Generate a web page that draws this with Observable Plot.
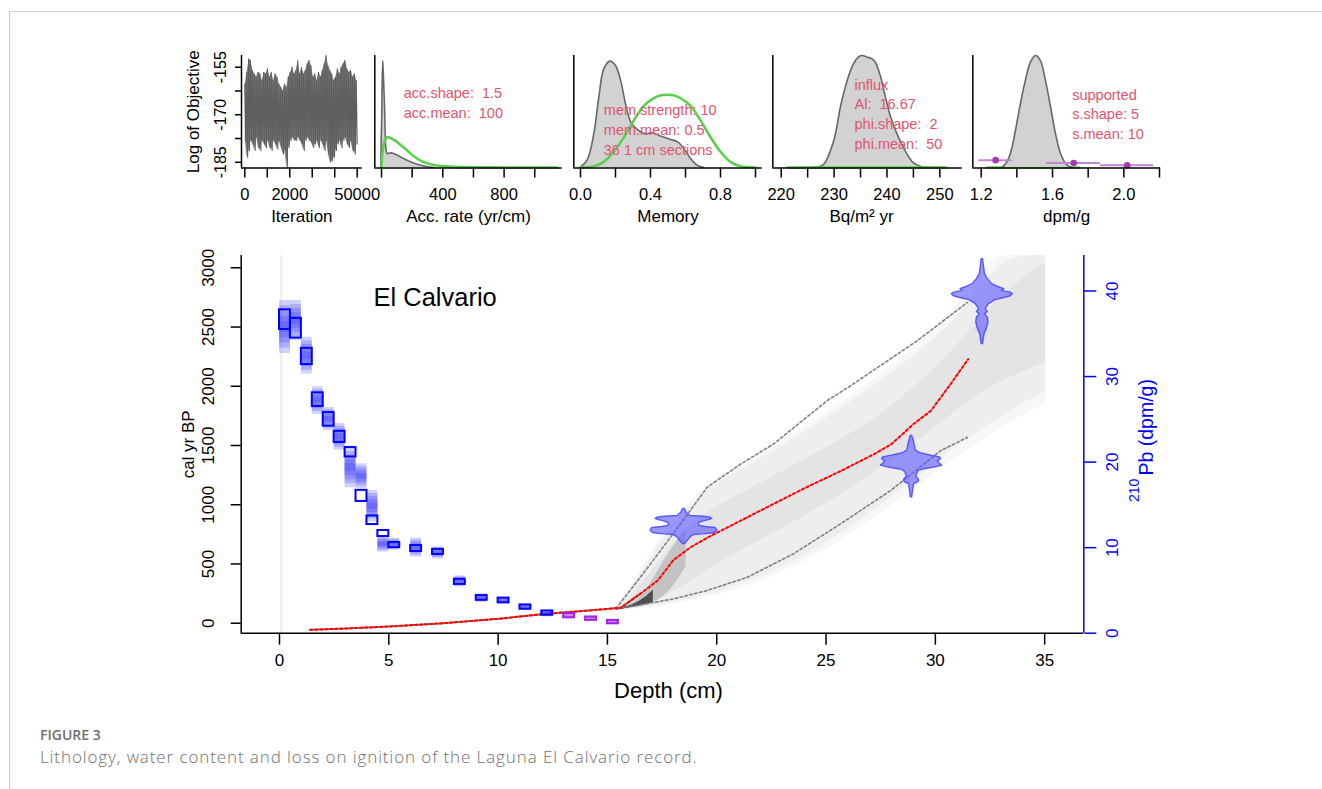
<!DOCTYPE html>
<html><head><meta charset="utf-8">
<script src="https://cdn.jsdelivr.net/npm/d3@7"></script>
<script src="https://cdn.jsdelivr.net/npm/@observablehq/plot@0.6"></script>
<style>
body{margin:0;background:#fff;}
#page{position:relative;width:1322px;height:789px;overflow:hidden;background:#fff;}
#frame{position:absolute;left:9px;top:11px;width:1330px;height:800px;border-top:1px solid #cfcfcf;border-left:1px solid #cfcfcf;}
.layer{position:absolute;left:0;top:0;}
.layer text{white-space:pre;}
.layer g[aria-label*="tick"] path,.layer g[aria-label*="axis"] line{stroke-width:1.5px;}
#fig{position:absolute;left:40px;top:727px;font-family:"Open Sans",sans-serif;font-size:14px;line-height:16px;font-weight:600;color:#6f6f6f;}
#cap{position:absolute;left:40px;top:747px;font-family:"Open Sans",sans-serif;font-size:17px;line-height:20px;font-weight:300;letter-spacing:0.9px;color:#6f6f6f;}
</style></head>
<body><div id="page"><div id="frame"></div>
<div id="fig">FIGURE 3</div>
<div id="cap">Lithology, water content and loss on ignition of the Laguna El Calvario record.</div>
</div>
<script>
// ================= DATA =================
// --- panel 1: MCMC trace (log of objective), band tops / bottoms
const traceHi = [-160.3,-156.6,-152.4,-152.9,-156.0,-157.1,-158.1,-156.6,-157.1,-159.2,
 -156.6,-157.1,-155.5,-158.1,-156.6,-159.2,-157.1,-158.1,-160.3,-161.3,
 -162.4,-160.3,-161.3,-158.1,-156.6,-155.0,-157.1,-156.0,-152.9,-157.1,
 -155.0,-157.1,-156.0,-153.9,-152.9,-154.5,-158.1,-157.1,-159.2,-156.6,
 -158.1,-156.0,-153.9,-151.3,-154.5,-156.0,-157.1,-159.2,-158.1,-155.5,
 -157.1,-155.0,-153.9,-152.9,-155.5,-156.6,-156.0,-158.1,-157.1,-159.2];
const traceLo = [-178.1,-183.4,-181.3,-178.1,-179.2,-181.3,-177.1,-180.3,-181.3,-178.1,
 -179.2,-180.3,-178.1,-180.3,-181.3,-178.1,-179.2,-180.8,-178.1,-180.3,
 -182.4,-181.3,-186.6,-180.3,-178.1,-177.1,-178.1,-178.1,-177.1,-178.1,
 -179.2,-181.3,-178.1,-177.1,-178.1,-178.7,-180.3,-179.2,-178.1,-180.3,
 -178.1,-179.2,-181.3,-178.1,-182.4,-185.0,-184.5,-183.4,-181.3,-179.2,
 -178.1,-180.3,-178.1,-177.1,-179.2,-180.3,-178.1,-181.3,-182.4,-179.2];
const traceTicks = [-155,-162.5,-170,-177.5,-185];
const traceTickLabels = [-155,-170,-185];
const iterTicks = [0,10000,20000,30000,40000,50000];
const iterTickText = ["0","","2000","","","50000"];

// --- panel 2: accumulation rate
const accPostX = [-5,2,8,13,20,30,37,60,80,124,189,254,341];
const accPostY = [0,0.5,0.955,0.8,0.54,0.154,0.125,0.13,0.125,0.094,0.05,0.02,0];
const accPriorX = [0,5,10,20,30,40,50,70,100,130,170,210,280,350,450,600,800,1000,1146];
const accPriorY = [0,0.12,0.17,0.235,0.262,0.27,0.268,0.255,0.228,0.195,0.15,0.1,0.045,0.02,0.007,0.002,0,0,0];
const accTicks = [0,200,400,600,800,1000];
const accTickText = ["","","400","","800",""];
const accText = "acc.shape:  1.5\nacc.mean:  100";

// --- panel 3: memory
const memPostX = [0,0.038,0.076,0.105,0.133,0.168,0.2,0.229,0.257,0.286,0.324,0.371,0.41,0.457,0.514,0.553,0.59,0.629,0.667,0.705];
const memPostY = [0.005,0.065,0.30,0.63,0.88,0.95,0.91,0.78,0.57,0.41,0.34,0.30,0.31,0.28,0.25,0.23,0.17,0.08,0.02,0];
const memPriorX = [0,0.076,0.133,0.19,0.248,0.305,0.362,0.419,0.46,0.495,0.53,0.571,0.629,0.686,0.743,0.8,0.857,0.914,1.0];
const memPriorY = [0,0.01,0.05,0.14,0.27,0.42,0.55,0.62,0.645,0.65,0.645,0.62,0.55,0.42,0.27,0.14,0.05,0.01,0];
const memTicks = [0,0.2,0.4,0.6,0.8,1.0];
const memTickText = ["0.0","","0.4","","0.8",""];
const memText = "mem.strength: 10\nmem.mean: 0.5\n36 1 cm sections";

// --- panel 4: 210Pb influx
const bqPostX = [221.1,227.4,228.1,229.95,231.2,232.5,233.7,234.7,235.3,236.3,237.2,237.8,238.8,239.7,240.7,241.9,243.2,244.8,246.3,250.5];
const bqPostY = [0,0.01,0.03,0.24,0.54,0.78,0.93,0.99,1.0,0.985,0.97,0.94,0.81,0.63,0.45,0.30,0.17,0.05,0.01,0];
const bqPriorX = [221.5,251.2];
const bqPriorY = [0,0];
const bqTicks = [220,225,230,235,240,245,250];
const bqTickText = ["220","","230","","240","","250"];
const bqText = "influx\nAl:  16.67\nphi.shape:  2\nphi.mean:  50";

// --- panel 5: supported 210Pb
const dpmPostX = [1.318,1.34,1.364,1.392,1.42,1.448,1.476,1.505,1.532,1.56,1.589,1.617,1.645,1.682,1.71];
const dpmPostY = [0,0.04,0.125,0.33,0.57,0.78,0.94,1.0,0.955,0.78,0.54,0.30,0.125,0.02,0];
const dpmPriorX = [1.234,1.748];
const dpmPriorY = [0,0];
const supVal = [1.281,1.719,2.019];
const supLowP = [1.187,1.566,1.869];
const supHighP = [1.374,1.869,2.168];
const supLevel = [0.065,0.04,0.02];
const dpmTicks = [1.2,1.4,1.6,1.8,2.0,2.2];
const dpmTickText = ["1.2","","1.6","","2.0",""];
const dpmText = "supported\ns.shape: 5\ns.mean: 10";

// --- main panel: age-depth model
const depthTicks = [0,5,10,15,20,25,30,35];
const ageTicks = [0,500,1000,1500,2000,2500,3000];
const pbTicks = [0,10,20,30,40];

const cloudD  = [15.3,16,17,18,19,20,21,22,24,26,28,30,31.5,32.5,33.5,35.05];
const cloudLo = [105,112,130,160,195,235,290,350,510,730,990,1270,1470,1590,1700,1860];
const cloudHi = [130,290,600,880,1080,1220,1330,1430,1650,1900,2170,2470,2790,3104,3104,3104];
const midLo   = [110,118,140,175,215,260,320,390,560,790,1060,1350,1560,1680,1800,1960];
const midHi   = [126,260,560,840,1040,1180,1290,1390,1610,1850,2110,2400,2680,2950,3104,3104];
const innerD  = [16,17,18,19,20,22,24,26,28,30,31.5,33,35.05];
const innerLo = [125,170,260,380,500,700,900,1120,1370,1650,1880,2050,2200];
const innerHi = [200,430,680,860,990,1180,1380,1580,1820,2150,2450,2780,3050];
const coreD   = [15.4,15.8,16.2,16.6,17.0,17.4,17.8,18.2,18.6];
const coreLo  = [115,122,132,145,165,200,260,360,480];
const coreHi  = [125,140,170,230,340,470,590,700,790];
const darkD   = [15.5,15.9,16.3,16.7,17.1];
const darkLo  = [118,126,138,152,175];
const darkHi  = [124,138,165,210,280];

const redD   = [1.4,3,5,7.5,10,12.2,14,15.6,16.5,17.3,18.0,18.8,19.6,21.1,22.6,24.1,25.7,27.2,28.0,29.0,29.8,30.7,31.5];
const redAge = [-56,-45,-28,0,37,79,105,130,248,360,529,641,725,866,1007,1147,1287,1428,1513,1681,1794,2019,2229];
const upD    = [15.4,16.97,18.34,19.56,21.1,22.6,25.05,26.12,29.17,31.46];
const upAge  = [125,500,838,1147,1344,1513,1878,2004,2384,2707];
const loD    = [15.4,18.04,19.56,21.4,23.5,25.66,27.95,30.24,31.46];
const loAge  = [118,206,276,388,585,838,1119,1456,1568];

// 210Pb measurements (depth interval, dpm/g) and modelled spread
const pbTop  = [0,0.5,1.0,1.5,2.0,2.5,3.0,3.5,4.0,4.5,5.0,6.0,7.0,8.0,9.0,10.0,11.0,12.0];
const pbBot  = [0.5,1.0,1.5,2.0,2.5,3.0,3.5,4.0,4.5,5.0,5.5,6.5,7.5,8.5,9.5,10.5,11.5,12.5];
const pbLo   = [35.5,34.5,31.4,26.5,24.2,22.3,20.6,15.4,12.7,11.3,10.0,9.55,9.2,5.7,3.85,3.55,2.8,2.1];
const pbHi   = [37.8,36.8,33.3,28.1,25.8,23.6,21.7,16.7,13.7,12.0,10.6,10.25,9.8,6.3,4.4,4.1,3.3,2.6];
const blurLo = [32.7,34.2,30.3,25.6,23.7,21.4,17.0,16.9,13.0,9.5,9.7,8.9,8.7,5.4,3.6,3.4,2.65,1.9];
const blurHi = [38.9,38.9,34.6,28.8,26.4,24.5,21.7,19.8,16.7,11.3,11.1,11.1,10.1,6.7,4.6,4.2,3.4,2.65];
// supported 210Pb samples
const supTop = [13,14,15];
const supBot = [13.5,14.5,15.5];
const supLo  = [1.8,1.5,1.1];
const supHi  = [2.3,1.9,1.5];

// calibrated 14C dates (violins): depth, age profile and half-width (cm)
const dateDepth = [18.5,28.91,32.15];
const v1Age = [964,935,922,905,900,890,880,870,860,850,843,824,812,804,792,782,770,759,750,745,725,697,669];
const v1Hw  = [0.04,0.12,0.18,0.3,0.9,1.22,1.3,1.15,0.9,0.75,0.69,0.69,1.0,1.45,1.5,1.52,1.48,1.37,0.9,0.46,0.3,0.18,0.05];
const v2Age = [1583,1540,1500,1456,1435,1415,1400,1385,1366,1345,1330,1315,1300,1288,1260,1235,1218,1200,1189,1175,1119,1062];
const v2Hw  = [0.03,0.1,0.15,0.2,0.4,0.9,1.3,1.35,1.2,1.3,1.4,1.1,0.6,0.35,0.25,0.22,0.32,0.35,0.3,0.12,0.07,0.03];
const v3Age = [3073,3002,2946,2904,2862,2840,2820,2805,2790,2777,2760,2749,2727,2693,2651,2628,2609,2580,2538,2482,2440,2356];
const v3Hw  = [0.03,0.08,0.12,0.25,0.45,0.7,1.0,0.9,1.3,1.4,1.3,1.1,0.6,0.3,0.15,0.25,0.12,0.25,0.28,0.2,0.1,0.03];

// ================= BUILD =================
const FONT = "'Liberation Sans', Arial, Helvetica, sans-serif";
const PINK = "#e4526f";
const GREEN = "#5bd04c";
const page = document.getElementById("page");
function add(el){ el.classList.add("layer"); page.appendChild(el); return el; }
const xy = (xs, ys) => xs.map((x, i) => ({x, y: ys[i]}));
const band = (ds, lo, hi) => ds.map((d, i) => ({d, lo: lo[i], hi: hi[i]}));

const TOP = 55, BOT = 167.5, TH = 240;
function topPanel(left, right, xDomain, yDomain, xTicks, xText, title, marks, yOpts, titleDx = 0) {
  const fmt = new Map(xTicks.map((t, i) => [t, xText[i]]));
  return Plot.plot({
    width: 1322, height: TH,
    marginLeft: left, marginRight: 1322 - right, marginTop: TOP, marginBottom: TH - BOT,
    style: {background: "transparent", fontFamily: FONT, fontSize: "16.5px", color: "#000", overflow: "visible"},
    x: {domain: xDomain, ticks: xTicks, tickSize: 10, tickPadding: 10, tickFormat: d => fmt.get(d) ?? "", label: null},
    y: yOpts ?? {domain: yDomain, axis: null},
    marks: [
      ...marks,
      Plot.ruleY([yDomain[0]], {strokeWidth: 1.5}),
      Plot.ruleX([xDomain[0]], {strokeWidth: 1.5}),
      Plot.text([title], {text: d => d, frameAnchor: "bottom", lineAnchor: "middle", textAnchor: "middle", dy: 49, dx: titleDx, fontSize: 17})
    ]
  });
}
const densityMarks = (post, prior, extra = []) => [
  Plot.areaY(post, {x: "x", y: "y", fill: "#d2d2d2", curve: "catmull-rom"}),
  Plot.line(post, {x: "x", y: "y", stroke: "#686868", strokeWidth: 1.6, curve: "catmull-rom"}),
  Plot.line(prior, {x: "x", y: "y", stroke: GREEN, strokeWidth: 2.6, curve: "catmull-rom"}),
  ...extra
];
const pinkText = (txt, dx, dy) => Plot.text([txt], {text: d => d, frameAnchor: "top-left", dx, dy, textAnchor: "start", lineAnchor: "middle", fill: PINK, fontSize: 14.5, lineHeight: 1.36});
const rotLabel = (side, dx, size, extra = {}) => ({frameAnchor: side, dx, rotate: -90, textAnchor: "middle", lineAnchor: "middle", fontSize: size, ...extra});

// panel 1: trace
const nT = traceHi.length * 2;
const traceData = [];
traceHi.forEach((h, i) => {
  traceData.push({it: (2 * i) * 50000 / (nT - 1), v: h});
  traceData.push({it: (2 * i + 1) * 50000 / (nT - 1), v: traceLo[i]});
});
const traceBand = traceHi.map((h, i) => ({it: (2 * i + 0.5) * 50000 / (nT - 1), hi: h, lo: traceLo[i]}));
const p1Y = [-186.8, -151.3];
add(topPanel(241, 361.7, [-1468, 52224], p1Y, iterTicks, iterTickText, "Iteration", [
  Plot.areaY(traceBand, {x: "it", y1: "lo", y2: "hi", fill: "#5e5e5e", fillOpacity: 0.8}),
  Plot.line(traceData, {x: "it", y: "v", stroke: "#5e5e5e", strokeWidth: 1.1}),
  Plot.text(traceTickLabels, {y: d => d, text: d => String(d), ...rotLabel("left", -21, 16)}),
  Plot.text(["Log of Objective"], {text: d => d, ...rotLabel("left", -48, 17)})
], {domain: p1Y, ticks: traceTicks, tickSize: 6, tickFormat: () => "", label: null}));

const dY = [-0.005, 1];
// panel 2
add(topPanel(374.3, 561.7, [-43.7, 1179.1], dY, accTicks, accTickText, "Acc. rate (yr/cm)",
  [...densityMarks(xy(accPostX, accPostY), xy(accPriorX, accPriorY)), pinkText(accText, 29, 46.3)]));
// panel 3
add(topPanel(573.3, 761.7, [-0.0383, 1.0383], dY, memTicks, memTickText, "Memory",
  [...densityMarks(xy(memPostX, memPostY), xy(memPriorX, memPriorY)), pinkText(memText, 30, 73.3)]));
// panel 4
add(topPanel(772.3, 961.7, [218.41, 254.23], dY, bqTicks, bqTickText, "Bq/m² yr",
  [...densityMarks(xy(bqPostX, bqPostY), xy(bqPriorX, bqPriorY)), pinkText(bqText, 81.7, 57.3)], null, -6));
// panel 5
const sup = supVal.map((v, i) => ({v, lo: supLowP[i], hi: supHighP[i], f: supLevel[i]}));
add(topPanel(972.3, 1160, [1.1529, 2.2056], dY, dpmTicks, dpmTickText, "dpm/g", [
  Plot.line(xy(dpmPriorX, dpmPriorY), {x: "x", y: "y", stroke: GREEN, strokeWidth: 2.6}),
  Plot.areaY(xy(dpmPostX, dpmPostY), {x: "x", y: "y", fill: "#d2d2d2", curve: "catmull-rom"}),
  Plot.line(xy(dpmPostX, dpmPostY), {x: "x", y: "y", stroke: "#686868", strokeWidth: 1.6, curve: "catmull-rom"}),
  Plot.ruleY(sup, {y: "f", x1: "lo", x2: "hi", stroke: "#c486d4", strokeWidth: 2}),
  Plot.dot(sup, {x: "v", y: "f", r: 3.3, fill: "#a43bb5", stroke: "none"}),
  pinkText(dpmText, 99.4, 57.6)
]));

// ---- main plot A (age axis)
const mainDims = {width: 1322, height: 720, marginLeft: 240.7, marginRight: 238.7, marginTop: 255, marginBottom: 87.3};
const xMain = [-1.752, 36.79];
const yAge = [-84.3, 3103.7];
const violin = (c, ages, hws) => ages.map((a, i) => ({age: a, l: c - hws[i], r: c + hws[i]}));
const violinStyle = {y: "age", x1: "l", x2: "r", fill: "#5a5aff", fillOpacity: 0.62, stroke: "#4646ff", strokeOpacity: 0.85, strokeWidth: 1.4};
const red = redD.map((d, i) => ({d, a: redAge[i]}));
const bandStyle = (op) => ({x: "d", y1: "lo", y2: "hi", fill: "#000", fillOpacity: op, curve: "basis"});

add(Plot.plot({
  ...mainDims,
  style: {background: "transparent", fontFamily: FONT, fontSize: "17px", color: "#000", overflow: "visible"},
  x: {domain: xMain, ticks: depthTicks, tickSize: 12, tickPadding: 9, tickFormat: d => String(d), label: null},
  y: {domain: yAge, ticks: ageTicks, tickSize: 10, tickFormat: () => "", label: null},
  marks: [
    Plot.ruleX([0.08], {stroke: "#eeeeee", strokeWidth: 2}),
    Plot.areaY(band(cloudD, cloudLo, cloudHi), bandStyle(0.03)),
    Plot.areaY(band(cloudD, midLo, midHi), bandStyle(0.035)),
    Plot.areaY(band(innerD, innerLo, innerHi), bandStyle(0.04)),
    Plot.areaY(band(coreD, coreLo, coreHi), bandStyle(0.14)),
    Plot.areaY(band(darkD, darkLo, darkHi), bandStyle(0.6)),
    Plot.line(red.filter(r => r.d <= 16.5), {x: "d", y: "a", stroke: "#333", strokeOpacity: 0.55, strokeWidth: 2}),
    Plot.line(upD.map((d, i) => ({d, a: upAge[i]})), {x: "d", y: "a", stroke: "#7f7f7f", strokeWidth: 1.6, strokeDasharray: "2.5,2.5"}),
    Plot.line(loD.map((d, i) => ({d, a: loAge[i]})), {x: "d", y: "a", stroke: "#7f7f7f", strokeWidth: 1.6, strokeDasharray: "2.5,2.5"}),
    Plot.line(red, {x: "d", y: "a", stroke: "#ff0000", strokeWidth: 2, strokeDasharray: "2.5,2.5"}),
    Plot.areaX(violin(dateDepth[0], v1Age, v1Hw), violinStyle),
    Plot.areaX(violin(dateDepth[1], v2Age, v2Hw), violinStyle),
    Plot.areaX(violin(dateDepth[2], v3Age, v3Hw), violinStyle),
    Plot.ruleX([xMain[0]], {strokeWidth: 1.5}),
    Plot.ruleY([yAge[0]], {strokeWidth: 1.5}),
    Plot.text(ageTicks, {y: d => d, text: d => String(d), ...rotLabel("left", -32.7, 17)}),
    Plot.text(["cal yr BP"], {text: d => d, ...rotLabel("left", -53, 17)}),
    Plot.text(["Depth (cm)"], {text: d => d, frameAnchor: "bottom", lineAnchor: "middle", textAnchor: "middle", dx: 6, dy: 57.3, fontSize: 22}),
    Plot.text(["El Calvario"], {text: d => d, frameAnchor: "top-left", dx: 132.3, dy: 42, textAnchor: "start", lineAnchor: "middle", fontSize: 25.5})
  ]
}));

// ---- main plot B (210Pb axis)
const yPb = [0, 44.15];
const pbData = pbTop.map((t, i) => ({t, b: pbBot[i], lo: pbLo[i], hi: pbHi[i], blo: blurLo[i], bhi: blurHi[i]}));
const supData = supTop.map((t, i) => ({t, b: supBot[i], lo: supLo[i], hi: supHi[i]}));
// soft vertical spread: nested shrinking layers of each modelled interval
const blurLayers = [0, 0.1, 0.2, 0.3, 0.4].map(k => Plot.rect(pbData, {
  x1: "t", x2: "b",
  y1: d => d.blo + k * (d.bhi - d.blo),
  y2: d => d.bhi - k * (d.bhi - d.blo),
  fill: "#2f2fff", fillOpacity: 0.22
}));
add(Plot.plot({
  ...mainDims,
  style: {background: "transparent", fontFamily: FONT, fontSize: "17px", color: "#0000ff", overflow: "visible"},
  x: {domain: xMain, axis: null},
  y: {domain: yPb, axis: "right", ticks: pbTicks, tickSize: 12, tickFormat: () => "", label: null},
  marks: [
    ...blurLayers,
    Plot.rect(pbData, {x1: "t", x2: "b", y1: "lo", y2: "hi", fill: "none", stroke: "#0000ff", strokeWidth: 2}),
    Plot.rect(supData, {x1: "t", x2: "b", y1: "lo", y2: "hi", fill: "#a020f0", fillOpacity: 0.55, stroke: "#a020f0", strokeWidth: 2}),
    Plot.ruleX([xMain[1]], {strokeWidth: 1.5}),
    Plot.text(pbTicks, {y: d => d, text: d => String(d), ...rotLabel("right", 28.4, 17, {fill: "#0000ff"})}),
    Plot.text(["Pb (dpm/g)"], {text: d => d, ...rotLabel("right", 63.4, 19.5, {fill: "#0000ff", dy: -17})}),
    Plot.text(["210"], {text: d => d, ...rotLabel("right", 50.5, 14, {fill: "#0000ff", dy: 46})})
  ]
}));
</script>
</body></html>
